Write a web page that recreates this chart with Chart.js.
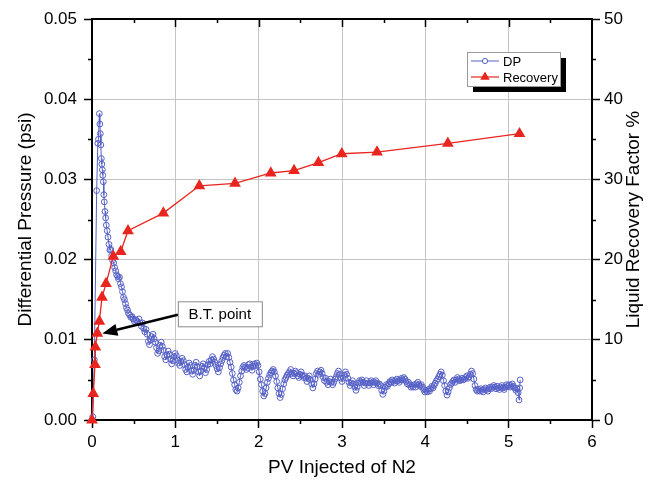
<!DOCTYPE html>
<html>
<head>
<meta charset="utf-8">
<script src="https://cdn.jsdelivr.net/npm/chart.js@4.4.1/dist/chart.umd.min.js"></script>
<style>
  html, body { margin: 0; padding: 0; background: #ffffff; }
  #wrap { width: 661px; height: 485px; }
</style>
</head>
<body>
<div id="wrap"><canvas id="c" width="661" height="485"></canvas></div>
<script>
// Differential pressure across the core vs. pore volumes of N2 injected
const dpPV = [
  0.010, 0.028, 0.056, 0.070, 0.078, 0.088, 0.094, 0.100, 0.106, 0.112, 0.118, 0.124, 0.130, 0.136, 0.142, 0.148, 0.156, 0.164, 0.172,
  0.182, 0.192, 0.204, 0.214, 0.224, 0.236, 0.248, 0.260, 0.272, 0.284, 0.296, 0.308, 0.318, 0.330, 0.342, 0.354, 0.366, 0.378, 0.390,
  0.402, 0.414, 0.426, 0.438, 0.452, 0.466, 0.480, 0.494, 0.508, 0.522, 0.536, 0.550, 0.564, 0.578, 0.592, 0.606, 0.620, 0.634, 0.648,
  0.662, 0.676, 0.690, 0.704, 0.718, 0.732, 0.746, 0.760, 0.774, 0.788, 0.802, 0.816, 0.830, 0.844, 0.858, 0.872, 0.886, 0.900, 0.914,
  0.928, 0.942, 0.956, 0.970, 0.984, 0.998, 1.012, 1.026, 1.040, 1.054, 1.068, 1.082, 1.096, 1.110, 1.124, 1.138, 1.152, 1.166, 1.180,
  1.194, 1.208, 1.222, 1.236, 1.250, 1.264, 1.278, 1.292, 1.306, 1.320, 1.334, 1.348, 1.362, 1.376, 1.390, 1.404, 1.418, 1.432, 1.446,
  1.460, 1.474, 1.488, 1.502, 1.516, 1.530, 1.544, 1.558, 1.572, 1.586, 1.600, 1.614, 1.628, 1.642, 1.656, 1.670, 1.684, 1.698, 1.712,
  1.726, 1.740, 1.754, 1.768, 1.782, 1.796, 1.810, 1.824, 1.838, 1.852, 1.866, 1.880, 1.894, 1.908, 1.922, 1.936, 1.950, 1.964, 1.978,
  1.992, 2.006, 2.020, 2.034, 2.048, 2.062, 2.076, 2.090, 2.104, 2.118, 2.132, 2.146, 2.160, 2.174, 2.188, 2.202, 2.216, 2.230, 2.244,
  2.258, 2.272, 2.286, 2.300, 2.314, 2.328, 2.342, 2.356, 2.370, 2.384, 2.398, 2.412, 2.426, 2.440, 2.454, 2.468, 2.482, 2.496, 2.510,
  2.524, 2.538, 2.552, 2.566, 2.580, 2.594, 2.608, 2.622, 2.636, 2.650, 2.664, 2.678, 2.692, 2.706, 2.720, 2.734, 2.748, 2.762, 2.776,
  2.790, 2.804, 2.818, 2.832, 2.846, 2.860, 2.874, 2.888, 2.902, 2.916, 2.930, 2.944, 2.958, 2.972, 2.986, 3.000, 3.014, 3.028, 3.042,
  3.056, 3.070, 3.084, 3.098, 3.112, 3.126, 3.140, 3.154, 3.168, 3.182, 3.196, 3.210, 3.224, 3.238, 3.252, 3.266, 3.280, 3.294, 3.308,
  3.322, 3.336, 3.350, 3.364, 3.378, 3.392, 3.406, 3.420, 3.434, 3.448, 3.462, 3.476, 3.490, 3.504, 3.518, 3.532, 3.546, 3.560, 3.574,
  3.588, 3.602, 3.616, 3.630, 3.644, 3.658, 3.672, 3.686, 3.700, 3.714, 3.728, 3.742, 3.756, 3.770, 3.784, 3.798, 3.812, 3.826, 3.840,
  3.854, 3.868, 3.882, 3.896, 3.910, 3.924, 3.938, 3.952, 3.966, 3.980, 3.994, 4.008, 4.022, 4.036, 4.050, 4.064, 4.078, 4.092, 4.106,
  4.120, 4.134, 4.148, 4.162, 4.176, 4.190, 4.204, 4.218, 4.232, 4.246, 4.260, 4.274, 4.288, 4.302, 4.316, 4.330, 4.344, 4.358, 4.372,
  4.386, 4.400, 4.414, 4.428, 4.442, 4.456, 4.470, 4.484, 4.498, 4.512, 4.526, 4.540, 4.554, 4.568, 4.582, 4.596, 4.610, 4.624, 4.638,
  4.652, 4.666, 4.680, 4.694, 4.708, 4.722, 4.736, 4.750, 4.764, 4.778, 4.792, 4.806, 4.820, 4.834, 4.848, 4.862, 4.876, 4.890, 4.904,
  4.918, 4.932, 4.946, 4.960, 4.974, 4.988, 5.002, 5.016, 5.030, 5.044, 5.058, 5.072, 5.086, 5.100, 5.114, 5.124, 5.132, 5.138
];
const dpPsi = [
  0.0004, 0.0075, 0.0286, 0.0345, 0.0350, 0.0382, 0.0369, 0.0357, 0.0343, 0.0326, 0.0319, 0.0312, 0.0305, 0.0297, 0.0281, 0.0272, 0.0260, 0.0252, 0.0243,
  0.0236, 0.0228, 0.0219, 0.0212, 0.0213, 0.0205, 0.0199, 0.0196, 0.0190, 0.0186, 0.0181, 0.0179, 0.0176, 0.0178, 0.0170, 0.0166, 0.0160, 0.0153, 0.0150,
  0.0145, 0.0140, 0.0137, 0.0133, 0.0131, 0.0128, 0.0129, 0.0126, 0.0123, 0.0125, 0.0124, 0.0122, 0.0126, 0.0121, 0.0117, 0.0121, 0.0114, 0.0110, 0.0113,
  0.0107, 0.0098, 0.0094, 0.0100, 0.0104, 0.0107, 0.0101, 0.0097, 0.0090, 0.0083, 0.0086, 0.0093, 0.0097, 0.0092, 0.0087, 0.0079, 0.0075, 0.0081, 0.0086,
  0.0082, 0.0076, 0.0070, 0.0074, 0.0079, 0.0083, 0.0080, 0.0075, 0.0071, 0.0068, 0.0073, 0.0077, 0.0074, 0.0069, 0.0063, 0.0060, 0.0066, 0.0071, 0.0068,
  0.0061, 0.0057, 0.0062, 0.0068, 0.0072, 0.0066, 0.0060, 0.0055, 0.0061, 0.0067, 0.0070, 0.0065, 0.0059, 0.0063, 0.0069, 0.0073, 0.0070, 0.0075, 0.0079,
  0.0076, 0.0072, 0.0068, 0.0064, 0.0060, 0.0065, 0.0070, 0.0074, 0.0078, 0.0081, 0.0083, 0.0079, 0.0083, 0.0078, 0.0072, 0.0066, 0.0058, 0.0050, 0.0044,
  0.0038, 0.0036, 0.0040, 0.0047, 0.0055, 0.0061, 0.0066, 0.0068, 0.0066, 0.0063, 0.0065, 0.0069, 0.0070, 0.0066, 0.0062, 0.0067, 0.0070, 0.0068, 0.0071,
  0.0068, 0.0060, 0.0051, 0.0044, 0.0036, 0.0030, 0.0033, 0.0040, 0.0047, 0.0052, 0.0056, 0.0059, 0.0061, 0.0063, 0.0060, 0.0055, 0.0048, 0.0040, 0.0033,
  0.0028, 0.0032, 0.0039, 0.0045, 0.0050, 0.0053, 0.0056, 0.0058, 0.0060, 0.0063, 0.0058, 0.0055, 0.0058, 0.0061, 0.0059, 0.0055, 0.0053, 0.0057, 0.0060,
  0.0056, 0.0053, 0.0055, 0.0052, 0.0048, 0.0052, 0.0055, 0.0050, 0.0045, 0.0040, 0.0045, 0.0051, 0.0058, 0.0061, 0.0057, 0.0060, 0.0062, 0.0058, 0.0053,
  0.0049, 0.0052, 0.0047, 0.0044, 0.0048, 0.0051, 0.0047, 0.0044, 0.0047, 0.0051, 0.0054, 0.0058, 0.0061, 0.0057, 0.0052, 0.0048, 0.0052, 0.0056, 0.0060,
  0.0057, 0.0052, 0.0047, 0.0043, 0.0046, 0.0049, 0.0045, 0.0041, 0.0037, 0.0041, 0.0046, 0.0049, 0.0047, 0.0050, 0.0047, 0.0043, 0.0046, 0.0049, 0.0046,
  0.0043, 0.0046, 0.0049, 0.0047, 0.0044, 0.0047, 0.0049, 0.0046, 0.0043, 0.0045, 0.0043, 0.0037, 0.0032, 0.0036, 0.0041, 0.0044, 0.0042, 0.0045, 0.0048,
  0.0047, 0.0050, 0.0048, 0.0046, 0.0049, 0.0051, 0.0049, 0.0047, 0.0050, 0.0052, 0.0050, 0.0053, 0.0051, 0.0048, 0.0045, 0.0047, 0.0044, 0.0041, 0.0043,
  0.0041, 0.0044, 0.0041, 0.0045, 0.0047, 0.0044, 0.0042, 0.0044, 0.0041, 0.0038, 0.0035, 0.0037, 0.0035, 0.0038, 0.0036, 0.0039, 0.0042, 0.0040, 0.0043,
  0.0046, 0.0049, 0.0051, 0.0054, 0.0057, 0.0060, 0.0056, 0.0049, 0.0043, 0.0036, 0.0031, 0.0035, 0.0040, 0.0044, 0.0046, 0.0048, 0.0050, 0.0047, 0.0050,
  0.0053, 0.0051, 0.0049, 0.0050, 0.0052, 0.0050, 0.0051, 0.0053, 0.0055, 0.0052, 0.0054, 0.0057, 0.0061, 0.0058, 0.0051, 0.0043, 0.0038, 0.0036, 0.0038,
  0.0036, 0.0039, 0.0037, 0.0035, 0.0038, 0.0040, 0.0038, 0.0036, 0.0039, 0.0041, 0.0039, 0.0041, 0.0043, 0.0041, 0.0039, 0.0042, 0.0040, 0.0038, 0.0041,
  0.0043, 0.0040, 0.0038, 0.0041, 0.0044, 0.0042, 0.0044, 0.0041, 0.0043, 0.0045, 0.0042, 0.0040, 0.0037, 0.0039, 0.0034, 0.0025, 0.0040, 0.0050
];

// Liquid recovery factor (%) vs. pore volumes injected
const recPV  = [0, 0.015, 0.036, 0.040, 0.064, 0.088, 0.120, 0.168, 0.256, 0.345, 0.432, 0.856, 1.288, 1.716, 2.145, 2.425, 2.717, 2.997, 3.42, 4.27, 5.13];
const recPct = [0, 3.3, 6.9, 9.1, 10.8, 12.3, 15.3, 17.0, 20.4, 21.0, 23.6, 25.8, 29.2, 29.5, 30.8, 31.1, 32.1, 33.2, 33.4, 34.5, 35.7];

// Breakthrough happens at this recovery point
const btIndex = 4;
const btLabel = 'B.T. point';

const seriesNames = ['DP', 'Recovery'];
const xTitle = 'PV Injected of N2';
const yTitle = 'Differential Pressure (psi)';
const y1Title = 'Liquid Recovery Factor %';

const FONT = '"Liberation Sans", Arial, sans-serif';
const BLUE = '#5560c6';
const RED = '#e8261f';

const dpPoints = dpPV.map((x, i) => ({ x, y: dpPsi[i] }));
const recPoints = recPV.map((x, i) => ({ x, y: recPct[i] }));

// Minor ticks, top frame, right-hand title, legend box and the breakthrough callout
const decorations = {
  id: 'decorations',
  afterDraw(chart) {
    const { ctx, chartArea: a, scales } = chart;
    const x = scales.x, y = scales.y, y1 = scales.y1;
    ctx.save();
    ctx.strokeStyle = '#000';

    // top frame with inward ticks
    ctx.lineWidth = 2;
    ctx.beginPath();
    ctx.moveTo(a.left - 1, a.top);
    ctx.lineTo(a.right + 1, a.top);
    ctx.stroke();
    ctx.lineWidth = 1.5;
    ctx.beginPath();
    for (let v = 0.5; v < 6; v += 0.5) {
      const px = Math.round(x.getPixelForValue(v)) + 0.5;
      const len = Math.abs(v - Math.round(v)) < 1e-9 ? 8 : 4;
      ctx.moveTo(px, a.top);
      ctx.lineTo(px, a.top + len);
    }
    // bottom minor ticks (outward)
    for (let v = 0.5; v < 6; v += 1) {
      const px = Math.round(x.getPixelForValue(v)) + 0.5;
      ctx.moveTo(px, a.bottom);
      ctx.lineTo(px, a.bottom + 4);
    }
    // left minor ticks (outward)
    for (let k = 0; k < 5; k++) {
      const py = Math.round(y.getPixelForValue(0.005 + k * 0.01)) + 0.5;
      ctx.moveTo(a.left - 4, py);
      ctx.lineTo(a.left, py);
    }
    // right minor ticks (outward)
    for (let k = 0; k < 5; k++) {
      const py = Math.round(y1.getPixelForValue(5 + k * 10)) + 0.5;
      ctx.moveTo(a.right, py);
      ctx.lineTo(a.right + 4, py);
    }
    ctx.stroke();

    // right axis title, reading bottom to top
    ctx.fillStyle = '#000';
    ctx.font = '19px ' + FONT;
    ctx.textAlign = 'center';
    ctx.textBaseline = 'middle';
    ctx.save();
    ctx.translate(a.right + 42, (a.top + a.bottom) / 2);
    ctx.rotate(-Math.PI / 2);
    ctx.fillText(y1Title, 0, 0);
    ctx.restore();

    // legend box with drop shadow
    const lx = a.right - 125, ly = a.top + 33, lw = 93, lh = 34;
    ctx.fillStyle = '#000';
    ctx.fillRect(lx + 6, ly + 6, lw, lh);
    ctx.fillStyle = '#fff';
    ctx.fillRect(lx, ly, lw, lh);
    ctx.strokeStyle = '#9a9a9a';
    ctx.lineWidth = 1;
    ctx.strokeRect(lx + 0.5, ly + 0.5, lw, lh);

    const row1 = ly + 9, row2 = ly + 25;
    const sx0 = lx + 4, sx1 = lx + 32, sxm = (sx0 + sx1) / 2;
    ctx.strokeStyle = BLUE;
    ctx.lineWidth = 1;
    ctx.beginPath();
    ctx.moveTo(sx0, row1); ctx.lineTo(sx1, row1);
    ctx.stroke();
    ctx.fillStyle = '#fff';
    ctx.beginPath();
    ctx.arc(sxm, row1, 2.6, 0, Math.PI * 2);
    ctx.fill(); ctx.stroke();

    ctx.strokeStyle = RED;
    ctx.lineWidth = 1.2;
    ctx.beginPath();
    ctx.moveTo(sx0, row2); ctx.lineTo(sx1, row2);
    ctx.stroke();
    ctx.fillStyle = RED;
    const tr = 5.5;
    ctx.beginPath();
    ctx.moveTo(sxm, row2 - tr);
    ctx.lineTo(sxm + tr * 0.866, row2 + tr * 0.5);
    ctx.lineTo(sxm - tr * 0.866, row2 + tr * 0.5);
    ctx.closePath();
    ctx.fill();

    ctx.fillStyle = '#000';
    ctx.font = '13px ' + FONT;
    ctx.textAlign = 'left';
    ctx.fillText(seriesNames[0], lx + 36, row1 + 1);
    ctx.fillText(seriesNames[1], lx + 36, row2 + 1);

    // breakthrough callout
    const tipX = x.getPixelForValue(recPV[btIndex]) + 5;
    const tipY = y1.getPixelForValue(recPct[btIndex]);
    const bx = x.getPixelForValue(1.03), bw = 84, bh = 25;
    const by = y.getPixelForValue(0.0148);
    ctx.fillStyle = '#fff';
    ctx.fillRect(bx, by, bw, bh);
    ctx.strokeStyle = '#8a8a8a';
    ctx.lineWidth = 1;
    ctx.strokeRect(bx + 0.5, by + 0.5, bw, bh);
    ctx.fillStyle = '#000';
    ctx.font = '15px ' + FONT;
    ctx.textAlign = 'center';
    ctx.fillText(btLabel, bx + bw / 2, by + bh / 2 + 1);

    const sx = bx, sy = by + bh / 2 + 1;
    const ang = Math.atan2(tipY - sy, tipX - sx);
    const headL = 15, headW = 6;
    const baseX = tipX - Math.cos(ang) * headL, baseY = tipY - Math.sin(ang) * headL;
    ctx.strokeStyle = '#000';
    ctx.lineWidth = 2.5;
    ctx.beginPath();
    ctx.moveTo(sx, sy);
    ctx.lineTo(baseX, baseY);
    ctx.stroke();
    ctx.fillStyle = '#000';
    ctx.beginPath();
    ctx.moveTo(tipX, tipY);
    ctx.lineTo(baseX + Math.sin(ang) * headW, baseY - Math.cos(ang) * headW);
    ctx.lineTo(baseX - Math.sin(ang) * headW, baseY + Math.cos(ang) * headW);
    ctx.closePath();
    ctx.fill();

    ctx.restore();
  }
};

const tickFont = { family: FONT, size: 17 };
const titleFont = { family: FONT, size: 19 };

new Chart(document.getElementById('c'), {
  type: 'scatter',
  data: {
    datasets: [
      {
        label: seriesNames[1],
        data: recPoints,
        yAxisID: 'y1',
        showLine: true,
        order: 0,
        borderColor: RED,
        borderWidth: 1.3,
        pointStyle: 'triangle',
        pointRadius: 6.8,
        pointBackgroundColor: RED,
        pointBorderColor: RED,
        pointBorderWidth: 0,
        clip: false
      },
      {
        label: seriesNames[0],
        data: dpPoints,
        yAxisID: 'y',
        showLine: true,
        order: 1,
        borderColor: BLUE,
        borderWidth: 1,
        pointStyle: 'circle',
        pointRadius: 2.9,
        pointBackgroundColor: 'rgba(255,255,255,0)',
        pointBorderColor: BLUE,
        pointBorderWidth: 1,
        clip: false
      }
    ]
  },
  options: {
    responsive: false,
    devicePixelRatio: 1,
    animation: false,
    events: [],
    layout: { padding: { top: 19, left: 0, right: 0, bottom: 0 } },
    plugins: { legend: { display: false }, tooltip: { enabled: false } },
    scales: {
      x: {
        type: 'linear',
        position: 'bottom',
        min: 0, max: 6,
        afterFit: s => { s.height = 65; },
        ticks: { stepSize: 1, color: '#000', font: tickFont, padding: 4, maxRotation: 0 },
        grid: { color: '#c4c4c4', lineWidth: 1, tickColor: '#000', tickLength: 8, tickWidth: 1.5 },
        border: { color: '#000', width: 2 },
        title: { display: true, text: xTitle, color: '#000', font: titleFont, padding: { top: 0, bottom: 6 } }
      },
      y: {
        type: 'linear',
        position: 'left',
        min: 0, max: 0.05,
        afterFit: s => { s.width = 92; },
        ticks: { stepSize: 0.01, color: '#000', font: tickFont, padding: 7, callback: v => v.toFixed(2) },
        grid: { color: '#c4c4c4', lineWidth: 1, tickColor: '#000', tickLength: 8, tickWidth: 1.5 },
        border: { color: '#000', width: 2 },
        title: { display: true, text: yTitle, color: '#000', font: titleFont, padding: { top: 14, bottom: 0 } }
      },
      y1: {
        type: 'linear',
        position: 'right',
        min: 0, max: 50,
        afterFit: s => { s.width = 69; },
        ticks: { stepSize: 10, color: '#000', font: tickFont, padding: 4 },
        grid: { drawOnChartArea: false, tickColor: '#000', tickLength: 8, tickWidth: 1.5 },
        border: { color: '#000', width: 2 }
      }
    }
  },
  plugins: [decorations]
});
</script>
</body>
</html>
